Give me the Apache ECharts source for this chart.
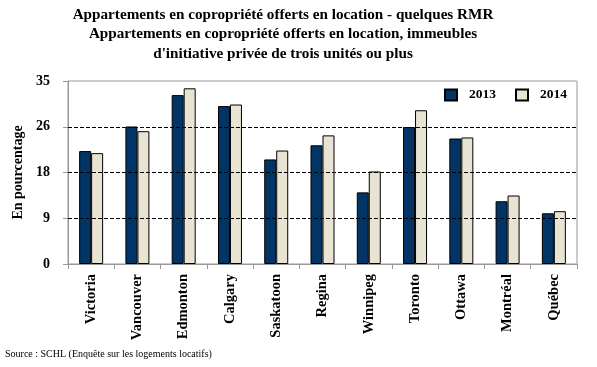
<!DOCTYPE html>
<html>
<head>
<meta charset="utf-8">
<script src="https://cdn.jsdelivr.net/npm/echarts@6/dist/echarts.min.js"></script>
<style>html,body{margin:0;padding:0;background:#fff}#c{width:597px;height:367px}</style>
</head>
<body>
<div id="c"></div>
<script>
const categories = ['Victoria','Vancouver','Edmonton','Calgary','Saskatoon','Regina','Winnipeg','Toronto','Ottawa','Montréal','Québec'];
const values2013 = [21.6, 26.3, 32.3, 30.2, 20.0, 22.7, 13.7, 26.2, 24.0, 12.0, 9.7];
const values2014 = [21.2, 25.4, 33.6, 30.5, 21.7, 24.6, 17.7, 29.4, 24.2, 13.1, 10.1];
const yTicks = [0, 8.75, 17.5, 26.25, 35];
const seriesNames = ['2013', '2014'];

const serif = '"Liberation Serif", "DejaVu Serif", serif';
const chart = echarts.init(document.getElementById('c'), null, {renderer: 'canvas'});
chart.setOption({
  animation: false,
  backgroundColor: '#fff',
  title: {
    text: 'Appartements en copropriété offerts en location - quelques RMR\nAppartements en copropriété offerts en location, immeubles\nd\'initiative privée de trois unités ou plus',
    left: 283, top: 5, textAlign: 'center', padding: 0,
    textStyle: {fontFamily: serif, fontWeight: 'bold', fontSize: 15.2, lineHeight: 19.5, color: '#000'}
  },
  legend: {
    data: seriesNames, right: 25, top: 83, itemWidth: 12, itemHeight: 11, itemGap: 19, icon: 'rect',
    textStyle: {fontFamily: serif, fontWeight: 'bold', fontSize: 13.5, color: '#000', padding: [0,0,0,7]}
  },
  grid: {left: 68, right: 20, top: 81, bottom: 103, show: true, borderColor: '#999', borderWidth: 1},
  xAxis: {
    type: 'category', data: categories,
    axisLine: {lineStyle: {color: '#999'}},
    axisTick: {show: true, length: 5, lineStyle: {color: '#999'}},
    axisLabel: {rotate: 90, margin: 10, interval: 0, fontFamily: serif, fontWeight: 'bold', fontSize: 14.5, color: '#000'}
  },
  yAxis: {
    type: 'value', min: 0, max: 35, interval: 8.75,
    name: 'En pourcentage', nameLocation: 'middle', nameGap: 42,
    nameTextStyle: {fontFamily: serif, fontWeight: 'bold', fontSize: 14, color: '#000'},
    axisLine: {show: true, lineStyle: {color: '#999'}},
    axisTick: {show: true, length: 5, lineStyle: {color: '#999'}},
    splitLine: {show: false},
    axisLabel: {margin: 18, fontFamily: serif, fontWeight: 'bold', fontSize: 14, color: '#000',
      formatter: v => String(Math.round(v))}
  },
  series: [
    {
      name: seriesNames[0], type: 'bar', data: values2013, barWidth: 12, barGap: '0%',
      itemStyle: {color: '#023466', borderColor: '#000', borderWidth: 1},
      markLine: {
        silent: true, symbol: 'none', label: {show: false},
        lineStyle: {color: '#000', type: [4, 2], width: 1},
        data: yTicks.slice(1, -1).map(v => ({yAxis: v}))
      }
    },
    {
      name: seriesNames[1], type: 'bar', data: values2014, barWidth: 12,
      itemStyle: {color: '#E8E3D3', borderColor: '#000', borderWidth: 1}
    }
  ],
  graphic: [{
    type: 'text', left: 5, top: 349,
    style: {text: 'Source : SCHL (Enquête sur les logements locatifs)', font: '10px ' + serif, fill: '#000'}
  }]
});
</script>
</body>
</html>
